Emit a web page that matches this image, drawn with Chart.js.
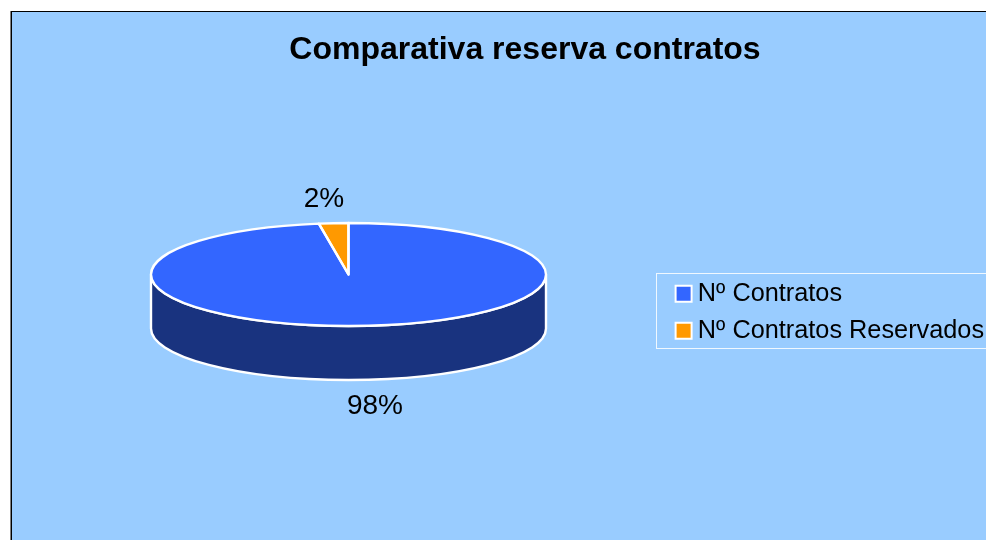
<!DOCTYPE html>
<html><head><meta charset="utf-8">
<style>html,body{margin:0;padding:0;background:#fff;overflow:hidden}canvas{display:block}</style>
<script src="https://cdn.jsdelivr.net/npm/chart.js@4"></script></head>
<body><div style="width:986px;height:540px;position:relative"><canvas id="c" width="986" height="540"></canvas></div>
<script>
const titleText = 'Comparativa reserva contratos';
const categories = ['Nº Contratos', 'Nº Contratos Reservados'];
const values = [97.6, 2.4];
const sliceColors = ['#3366FF', '#FF9900'];

const FONT = '"Liberation Sans", Arial, sans-serif';
const TILT = 51.5 / 197.5, DEPTH = 54;
const total = values.reduce((a, b) => a + b, 0);
const labelPos = [[375, 406.5], [324, 199.5]];

const pie3d = {
  id: 'pie3d',
  beforeDraw(chart) {
    const c = chart.ctx;
    c.save();
    c.fillStyle = '#000';
    c.fillRect(10.5, 11, 976, 529);
    c.fillStyle = '#99CCFF';
    c.fillRect(12, 12, 974, 528);
    c.strokeStyle = 'rgba(255,255,255,0.85)';
    c.lineWidth = 1;
    c.strokeRect(656.5, 273.5, 400, 75);
    c.restore();
    chart.titleBlock.left = 64; chart.titleBlock.right = 986;
    const lg = chart.legend;
    lg.left = 670.3; lg.right = 1000; lg.top = 269.5; lg.bottom = 360;
  },
  beforeDatasetsDraw(chart) {
    const c = chart.ctx, a = chart.getDatasetMeta(0).data[0];
    const cx = a.x, cy = a.y, r = a.outerRadius, ry = r * TILT;
    c.save();
    c.beginPath();
    c.moveTo(cx - r, cy);
    c.lineTo(cx - r, cy + DEPTH);
    c.ellipse(cx, cy + DEPTH, r, ry, 0, Math.PI, 0, true);
    c.lineTo(cx + r, cy);
    c.ellipse(cx, cy, r, ry, 0, 0, Math.PI, false);
    c.closePath();
    c.fillStyle = '#19337F';
    c.fill();
    c.strokeStyle = '#fff';
    c.lineWidth = 2.4;
    c.stroke();
    c.restore();
    c.save();
    c.translate(cx, cy); c.scale(1, TILT); c.translate(-cx, -cy);
  },
  afterDatasetsDraw(chart) {
    const c = chart.ctx;
    c.restore();
    const meta = chart.getDatasetMeta(0);
    meta.data.forEach(a => {
      const ry = a.outerRadius * TILT;
      c.save();
      c.beginPath();
      c.moveTo(a.x, a.y);
      c.ellipse(a.x, a.y, a.outerRadius, ry, 0, a.startAngle, a.endAngle, false);
      c.closePath();
      c.strokeStyle = '#fff';
      c.lineWidth = 2.4;
      c.lineJoin = 'round';
      c.stroke();
      c.restore();
    });
    c.save();
    c.font = '28px ' + FONT;
    c.fillStyle = '#000';
    c.textAlign = 'center';
    c.textBaseline = 'middle';
    values.forEach((v, i) => {
      c.fillText(Math.round(v / total * 100) + '%', labelPos[i][0], labelPos[i][1]);
    });
    c.restore();
  }
};

new Chart(document.getElementById('c'), {
  type: 'pie',
  plugins: [pie3d],
  data: {
    labels: categories,
    datasets: [{ data: values, backgroundColor: sliceColors, borderWidth: 0, hoverBorderWidth: 0 }]
  },
  options: {
    responsive: false,
    animation: false,
    events: [],
    layout: { padding: { left: 0, right: 289, top: 0, bottom: 68 } },
    plugins: {
      tooltip: { enabled: false },
      title: {
        display: true, text: titleText, color: '#000',
        font: { family: FONT, size: 32, weight: 'bold', lineHeight: 1.2 },
        padding: { top: 30.5, bottom: 8.1 }
      },
      legend: {
        display: true, position: 'chartArea', align: 'start',
        labels: {
          color: '#000',
          font: { family: FONT, size: 25.3 },
          usePointStyle: true, pointStyle: 'rect',
          boxWidth: 3.2, boxHeight: 16, padding: 11.7,
          generateLabels(chart) {
            return categories.map((t, i) => ({
              text: t, fillStyle: sliceColors[i], strokeStyle: '#fff',
              lineWidth: 2, pointStyle: 'rect', hidden: false, index: i
            }));
          }
        }
      }
    }
  }
});
</script></body></html>
